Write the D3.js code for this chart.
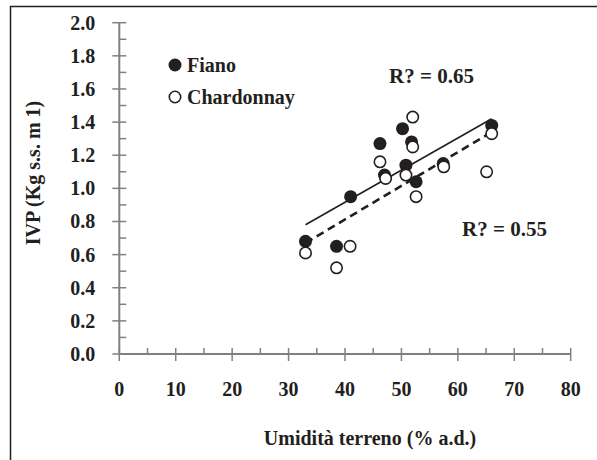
<!DOCTYPE html>
<meta charset="utf-8">
<title>IVP vs umidità terreno</title>
<script src="https://cdn.jsdelivr.net/npm/d3@7/dist/d3.min.js"></script>
<style>
  body { margin: 0; background: #fff; }
  svg text { font-family: "Liberation Serif", "Times New Roman", serif; font-weight: bold; fill: #231f20; }
</style>
<body>
<svg></svg>
<script>
// data
var fianoX = [33, 38.5, 41, 46.2, 47, 50.2, 50.8, 51.8, 52.6, 57.4, 66];
var fianoY = [0.68, 0.65, 0.95, 1.27, 1.08, 1.36, 1.14, 1.28, 1.04, 1.15, 1.38];
var chardX = [33, 38.5, 40.9, 46.2, 47.2, 50.8, 52, 52, 52.6, 57.5, 65.1, 66];
var chardY = [0.61, 0.52, 0.65, 1.16, 1.06, 1.08, 1.43, 1.25, 0.95, 1.13, 1.10, 1.33];
// trendline end points as drawn
var fianoTrend = [[33, 0.78], [66, 1.42]];
var chardTrend = [[33, 0.67], [66, 1.34]];
var xTicks = [0, 10, 20, 30, 40, 50, 60, 70, 80];
var yTicks = [0, 0.2, 0.4, 0.6, 0.8, 1.0, 1.2, 1.4, 1.6, 1.8, 2.0];

var width = 597, height = 460;
var ink = "#231f20", axisGrey = "#808080";

var svg = d3.select("svg").attr("width", width).attr("height", height);

// frame (only top and left edges show)
svg.append("path")
    .attr("d", "M10.5,460 V6.5 H597")
    .attr("fill", "none").attr("stroke", ink).attr("stroke-width", 1.5);

var x = d3.scaleLinear().domain([0, 80]).range([119.3, 570.7]);
var y = d3.scaleLinear().domain([0, 2]).range([354, 22.7]);

// y axis: major ticks cross, minor ticks on the right
var yAxis = svg.append("g").attr("transform", "translate(" + x(0) + ",0)");
yAxis.append("line").attr("y1", y(0)).attr("y2", y(2))
    .attr("stroke", axisGrey).attr("stroke-width", 2);
yAxis.selectAll(".major").data(yTicks).enter().append("line")
    .attr("x1", -7).attr("x2", 7)
    .attr("y1", function(d) { return y(d); }).attr("y2", function(d) { return y(d); })
    .attr("stroke", axisGrey).attr("stroke-width", 1.5);
yAxis.selectAll(".minor").data(d3.range(0.1, 2, 0.2)).enter().append("line")
    .attr("x1", 0).attr("x2", 7)
    .attr("y1", function(d) { return y(d); }).attr("y2", function(d) { return y(d); })
    .attr("stroke", axisGrey).attr("stroke-width", 1.5);
yAxis.selectAll("text").data(yTicks).enter().append("text")
    .attr("x", -24).attr("y", function(d) { return y(d); })
    .attr("dy", "0.35em").attr("text-anchor", "end")
    .style("font-size", "20px")
    .text(function(d) { return d3.format(".1f")(d); });

// x axis: major ticks cross, minor ticks upward
var xAxis = svg.append("g").attr("transform", "translate(0," + y(0) + ")");
xAxis.append("line").attr("x1", x(0)).attr("x2", x(80))
    .attr("stroke", axisGrey).attr("stroke-width", 2);
xAxis.selectAll(".major").data(xTicks).enter().append("line")
    .attr("x1", function(d) { return x(d); }).attr("x2", function(d) { return x(d); })
    .attr("y1", -6).attr("y2", 7)
    .attr("stroke", axisGrey).attr("stroke-width", 1.5);
xAxis.selectAll(".minor").data(d3.range(5, 80, 10)).enter().append("line")
    .attr("x1", function(d) { return x(d); }).attr("x2", function(d) { return x(d); })
    .attr("y1", -6).attr("y2", 0)
    .attr("stroke", axisGrey).attr("stroke-width", 1.5);
xAxis.selectAll("text").data(xTicks).enter().append("text")
    .attr("x", function(d) { return x(d); }).attr("y", 35)
    .attr("dy", "0.35em").attr("text-anchor", "middle")
    .style("font-size", "20px")
    .text(function(d) { return d; });

// axis titles
svg.append("text")
    .attr("x", 370).attr("y", 445)
    .attr("text-anchor", "middle").style("font-size", "20px")
    .text("Umidità terreno (% a.d.)");
svg.append("text")
    .attr("transform", "translate(40,173) rotate(-90)")
    .attr("text-anchor", "middle").style("font-size", "20px")
    .text("IVP (Kg s.s. m 1)");

// trendlines
var line = d3.line().x(function(d) { return x(d[0]); }).y(function(d) { return y(d[1]); });
svg.append("path").attr("d", line(fianoTrend))
    .attr("fill", "none").attr("stroke", ink).attr("stroke-width", 1.6);
svg.append("path").attr("d", line(chardTrend))
    .attr("fill", "none").attr("stroke", ink).attr("stroke-width", 2.6)
    .attr("stroke-dasharray", "8,5");

// points
var r = 6.5;
svg.selectAll(".fiano").data(fianoX).enter().append("circle")
    .attr("class", "fiano")
    .attr("cx", function(d) { return x(d); })
    .attr("cy", function(d, i) { return y(fianoY[i]); })
    .attr("r", r).attr("fill", ink);
svg.selectAll(".chard").data(chardX).enter().append("circle")
    .attr("class", "chard")
    .attr("cx", function(d) { return x(d); })
    .attr("cy", function(d, i) { return y(chardY[i]); })
    .attr("r", r - 0.8).attr("fill", "#fff")
    .attr("stroke", ink).attr("stroke-width", 1.6);

// legend
svg.append("circle").attr("cx", 175).attr("cy", 65).attr("r", r).attr("fill", ink);
svg.append("text").attr("x", 187).attr("y", 65).attr("dy", "0.35em")
    .style("font-size", "20px").text("Fiano");
svg.append("circle").attr("cx", 175).attr("cy", 97).attr("r", r - 0.8)
    .attr("fill", "#fff").attr("stroke", ink).attr("stroke-width", 1.6);
svg.append("text").attr("x", 187).attr("y", 97).attr("dy", "0.35em")
    .style("font-size", "20px").text("Chardonnay");

// R² labels
svg.append("text").attr("x", 389).attr("y", 76).attr("dy", "0.35em")
    .style("font-size", "21px").text("R? = 0.65");
svg.append("text").attr("x", 462).attr("y", 229).attr("dy", "0.35em")
    .style("font-size", "21px").text("R? = 0.55");
</script>
</body>
